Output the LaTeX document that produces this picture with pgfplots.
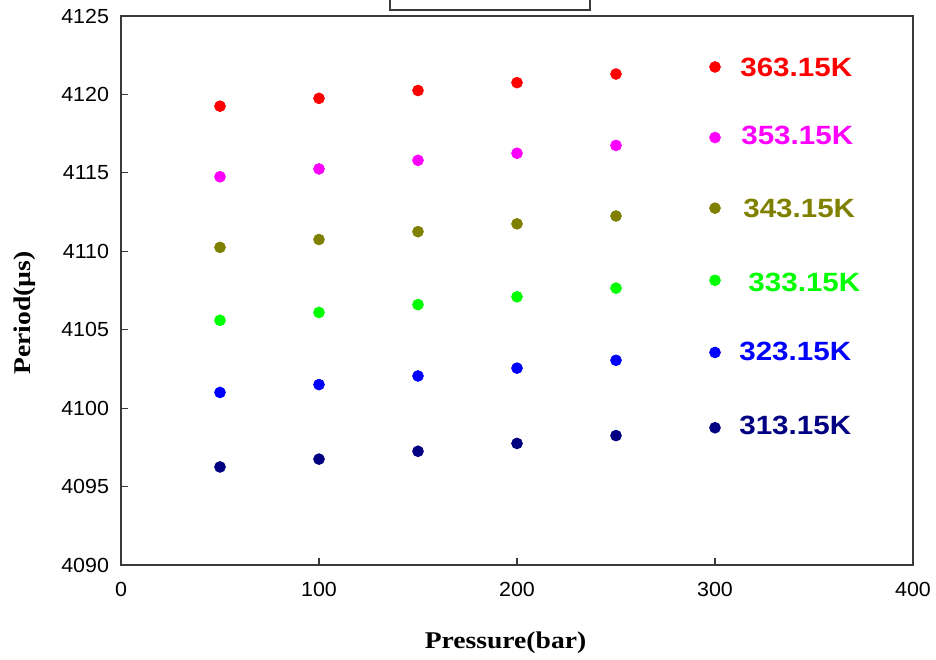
\documentclass[border=0pt]{standalone}
\usepackage{pgfplots}
\pgfplotsset{compat=1.18}
\usepackage{fontspec}
\setmainfont{Liberation Serif}
\newfontfamily\tickfont[FakeStretch=1.05]{Liberation Sans}
\newfontfamily\serlabfont[FakeStretch=1.12]{Liberation Sans Bold}
\newfontfamily\axlabfont[FakeStretch=1.15]{Liberation Serif Bold}
\definecolor{axgray}{HTML}{3A3A3A}
\definecolor{cA}{HTML}{FF0000}
\definecolor{cB}{HTML}{FF00FF}
\definecolor{cC}{HTML}{808000}
\definecolor{cD}{HTML}{00FF00}
\definecolor{cE}{HTML}{0000FF}
\definecolor{cF}{HTML}{000080}
\begin{document}
\begin{tikzpicture}
\begin{axis}[
  name=ax,
  width=396pt, height=274.5pt, scale only axis,
  xmin=0, xmax=400, ymin=4090, ymax=4125,
  xtick={0,100,200,300,400},
  ytick={4090,4095,...,4125},
  tick pos=left, tick align=inside,
  major tick length=3.5pt,
  axis line style={axgray, line width=0.6pt},
  tick style={axgray, line width=0.6pt},
  /pgf/number format/assume math mode=true,
  /pgf/number format/1000 sep={},
  ticklabel style={font=\tickfont\fontsize{10.2}{12}\selectfont},
  yticklabel style={xshift=-2.5pt},
  xticklabel style={yshift=-5pt},
  xlabel={\axlabfont Pressure(bar)},
  ylabel={\axlabfont Period(µs)},
  label style={font=\fontsize{12}{14}\selectfont},
  xlabel style={at={(rel axis cs:0.4855,0)}, anchor=center, yshift=-39pt},
  ylabel style={at={(rel axis cs:0,0.459)}, anchor=center, rotate=0, yshift=48pt},
  clip=false,
  every axis plot/.append style={only marks, mark=*, mark size=2.7pt},
]
\addplot[cA, mark options={fill=cA, draw=cA}] coordinates {(50,4119.25)(100,4119.75)(150,4120.25)(200,4120.75)(250,4121.3)(300,4121.75)};
\addplot[cB, mark options={fill=cB, draw=cB}] coordinates {(50,4114.75)(100,4115.25)(150,4115.8)(200,4116.25)(250,4116.75)(300,4117.25)};
\addplot[cC, mark options={fill=cC, draw=cC}] coordinates {(50,4110.25)(100,4110.75)(150,4111.25)(200,4111.75)(250,4112.25)(300,4112.75)};
\addplot[cD, mark options={fill=cD, draw=cD}] coordinates {(50,4105.6)(100,4106.1)(150,4106.6)(200,4107.1)(250,4107.65)(300,4108.15)};
\addplot[cE, mark options={fill=cE, draw=cE}] coordinates {(50,4101.0)(100,4101.5)(150,4102.05)(200,4102.55)(250,4103.05)(300,4103.55)};
\addplot[cF, mark options={fill=cF, draw=cF}] coordinates {(50,4096.25)(100,4096.75)(150,4097.25)(200,4097.75)(250,4098.25)(300,4098.75)};
\begin{scope}[every node/.style={anchor=west, inner sep=0pt, font=\serlabfont\fontsize{13.2}{15}\selectfont}]
\node[cA] at (axis cs:312.6,4121.7) {363.15K};
\node[cB] at (axis cs:313.1,4117.4) {353.15K};
\node[cC] at (axis cs:314.1,4112.7) {343.15K};
\node[cD] at (axis cs:316.7,4108.0) {333.15K};
\node[cE] at (axis cs:312.1,4103.6) {323.15K};
\node[cF] at (axis cs:312.1,4098.9) {313.15K};
\end{scope}
\draw[axgray, line width=1pt] (axis cs:135.9,4127) -- (axis cs:135.9,4125.38) -- (axis cs:236.9,4125.38) -- (axis cs:236.9,4127);
\end{axis}
\pgfresetboundingbox
\path[use as bounding box] ([xshift=-60.5pt, yshift=-47.5pt]ax.south west) rectangle ([xshift=11.5pt, yshift=8pt]ax.north east);
\end{tikzpicture}
\end{document}
